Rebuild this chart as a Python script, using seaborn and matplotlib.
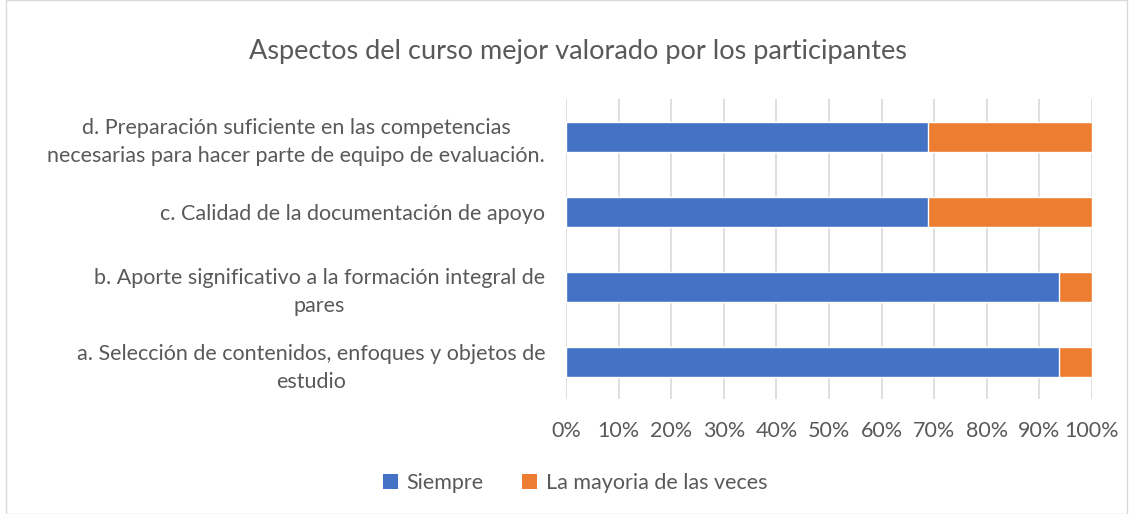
import matplotlib
matplotlib.use("Agg")
import matplotlib.pyplot as plt
import seaborn as sns
import pandas as pd
from matplotlib.patches import Patch, Rectangle

# datos (de arriba hacia abajo)
categorias = [
    "d. Preparación suficiente en las competencias\nnecesarias para hacer parte de equipo de evaluación.",
    "c. Calidad de la documentación de apoyo",
    "b. Aporte significativo a la formación integral de\npares",
    "a. Selección de contenidos, enfoques y objetos de\nestudio",
]
siempre = [68.75, 68.75, 93.75, 93.75]
mayoria = [31.25, 31.25, 6.25, 6.25]
series = ["Siempre", "La mayoria de las veces"]
colores = ["#4472C4", "#ED7D31"]
ticks_x = [0, 10, 20, 30, 40, 50, 60, 70, 80, 90, 100]

df = pd.DataFrame({"categoria": categorias, "siempre": siempre, "mayoria": mayoria})
df["total"] = df["siempre"] + df["mayoria"]

sns.set_theme(style="white")
plt.rcParams["font.family"] = ["Lato", "DejaVu Sans"]
texto = "#595959"

fig = plt.figure(figsize=(11.33, 5.14), dpi=100)
ax = fig.add_axes([566 / 1133, 1 - 399 / 514, 526 / 1133, 300 / 514])

sns.barplot(data=df, y="categoria", x="total", color=colores[1], width=0.4,
            order=categorias, ax=ax, saturation=1, zorder=3)
sns.barplot(data=df, y="categoria", x="siempre", color=colores[0], width=0.4,
            order=categorias, ax=ax, saturation=1, zorder=3)

ax.set_xlim(0, 100)
ax.set_ylim(3.5, -0.5)
ax.set_xticks(ticks_x)
ax.set_xticklabels([f"{t}%" for t in ticks_x], fontsize=15.5, color=texto)
ax.tick_params(axis="x", pad=16, length=0)
ax.tick_params(axis="y", pad=15, length=0)
for t in ax.get_yticklabels():
    t.set_fontsize(15.5)
    t.set_color(texto)
    t.set_multialignment("center")
    t.set_linespacing(1.5)
ax.set_xlabel("")
ax.set_ylabel("")
ax.grid(axis="x", color="#d9d9d9", linewidth=1.2, zorder=0)
for s in ax.spines.values():
    s.set_visible(False)

fig.text(578 / 1133, 1 - 51 / 514, "Aspectos del curso mejor valorado por los participantes",
         ha="center", va="center", fontsize=19.5, color=texto)

handles = [Patch(facecolor=c, edgecolor="none") for c in colores]
fig.legend(handles, series, loc="center", bbox_to_anchor=(575 / 1133, 1 - 483 / 514),
           ncol=2, frameon=False, fontsize=15.5, labelcolor=texto,
           handlelength=0.7, handleheight=0.7, handletextpad=0.4, columnspacing=1.8)

fig.patches.append(Rectangle((6 / 1133, 0), 1 - 12 / 1133, 1, transform=fig.transFigure,
                             fill=False, edgecolor="#d9d9d9", linewidth=1))

fig.savefig("out.png", dpi=100)
